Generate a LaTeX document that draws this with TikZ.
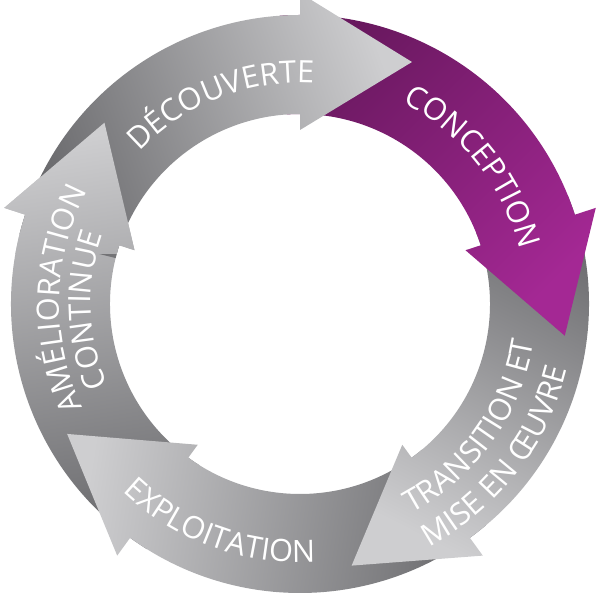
\documentclass[tikz,border=0pt]{standalone}
\usepackage{fontspec}
\usepackage{tikz}
\usetikzlibrary{shapes,arrows,positioning,calc,decorations.text}
\newfontfamily\lblfont{Open Sans}
\definecolor{purpledark}{RGB}{104,24,94}
\definecolor{purplelight}{RGB}{164,40,148}
\definecolor{graydark}{RGB}{106,106,109}
\definecolor{graylight}{RGB}{206,206,208}
\newcommand{\lblsize}{\lblfont\fontsize{17.5}{17.5}\selectfont}

\newcommand{\cyclearrow}[3]{%
  \path [#3] (#1:5.78) arc [start angle=#1, end angle=#2, radius=5.78]
    -- (#2:6.22) -- ([shift={(#2:4.84)}] #2-90:2.24) -- (#2:3.48) -- (#2:3.8)
    arc [start angle=#2, end angle=#1, radius=3.8] -- cycle;}

\begin{document}
\begin{tikzpicture}[
        ring/.style={top color=graylight, bottom color=graydark},
        focus/.style={top color=purplelight, bottom color=purpledark},
        lbl/.style={decorate, decoration={text along path, text align=center, text color=white}}]

    \useasboundingbox (0,0) rectangle (12,12);
    \begin{scope}[shift={(6,5.92)}]
        \cyclearrow{-122}{-198}{ring, shading angle=9}
        \cyclearrow{-50}{-126}{ring, shading angle=81}
        \cyclearrow{22}{-54}{ring, shading angle=153}
        \cyclearrow{94}{18}{focus, shading angle=-135}
        \cyclearrow{166}{90}{ring, shading angle=-70}
        \begin{scope}
            \clip (-6.5,1) rectangle (0,6.5);
            \cyclearrow{-122}{-198}{ring, shading angle=9}
        \end{scope}

        \path [lbl, decoration={text={|\lblsize|DÉCOUVERTE}}]
            (151.5:4.42) arc [start angle=151.5, end angle=71.5, radius=4.42];
        \path [lbl, decoration={text={|\lblsize|CONCEPTION}}]
            (78.5:4.52) arc [start angle=78.5, end angle=-1.5, radius=4.52];
        \path [lbl, decoration={text={|\lblsize|TRANSITION ET}}]
            (-75.6:4.74) arc [start angle=-75.6, end angle=4.4, radius=4.74];
        \path [lbl, decoration={text={|\lblsize|MISE EN ŒUVRE}}]
            (-77.8:5.5) arc [start angle=-77.8, end angle=2.2, radius=5.5];
        \path [lbl, decoration={text={|\lblsize|EXPLOITATION}}]
            (210:5.17) arc [start angle=210, end angle=290, radius=5.17];
        \path [lbl, decoration={text={|\lblsize|AMÉLIORATION}}]
            (218.7:4.81) arc [start angle=218.7, end angle=138.7, radius=4.81];
        \path [lbl, decoration={text={|\lblsize|CONTINUE}}]
            (221.6:4.18) arc [start angle=221.6, end angle=141.6, radius=4.18];
    \end{scope}
\end{tikzpicture}
\end{document}
